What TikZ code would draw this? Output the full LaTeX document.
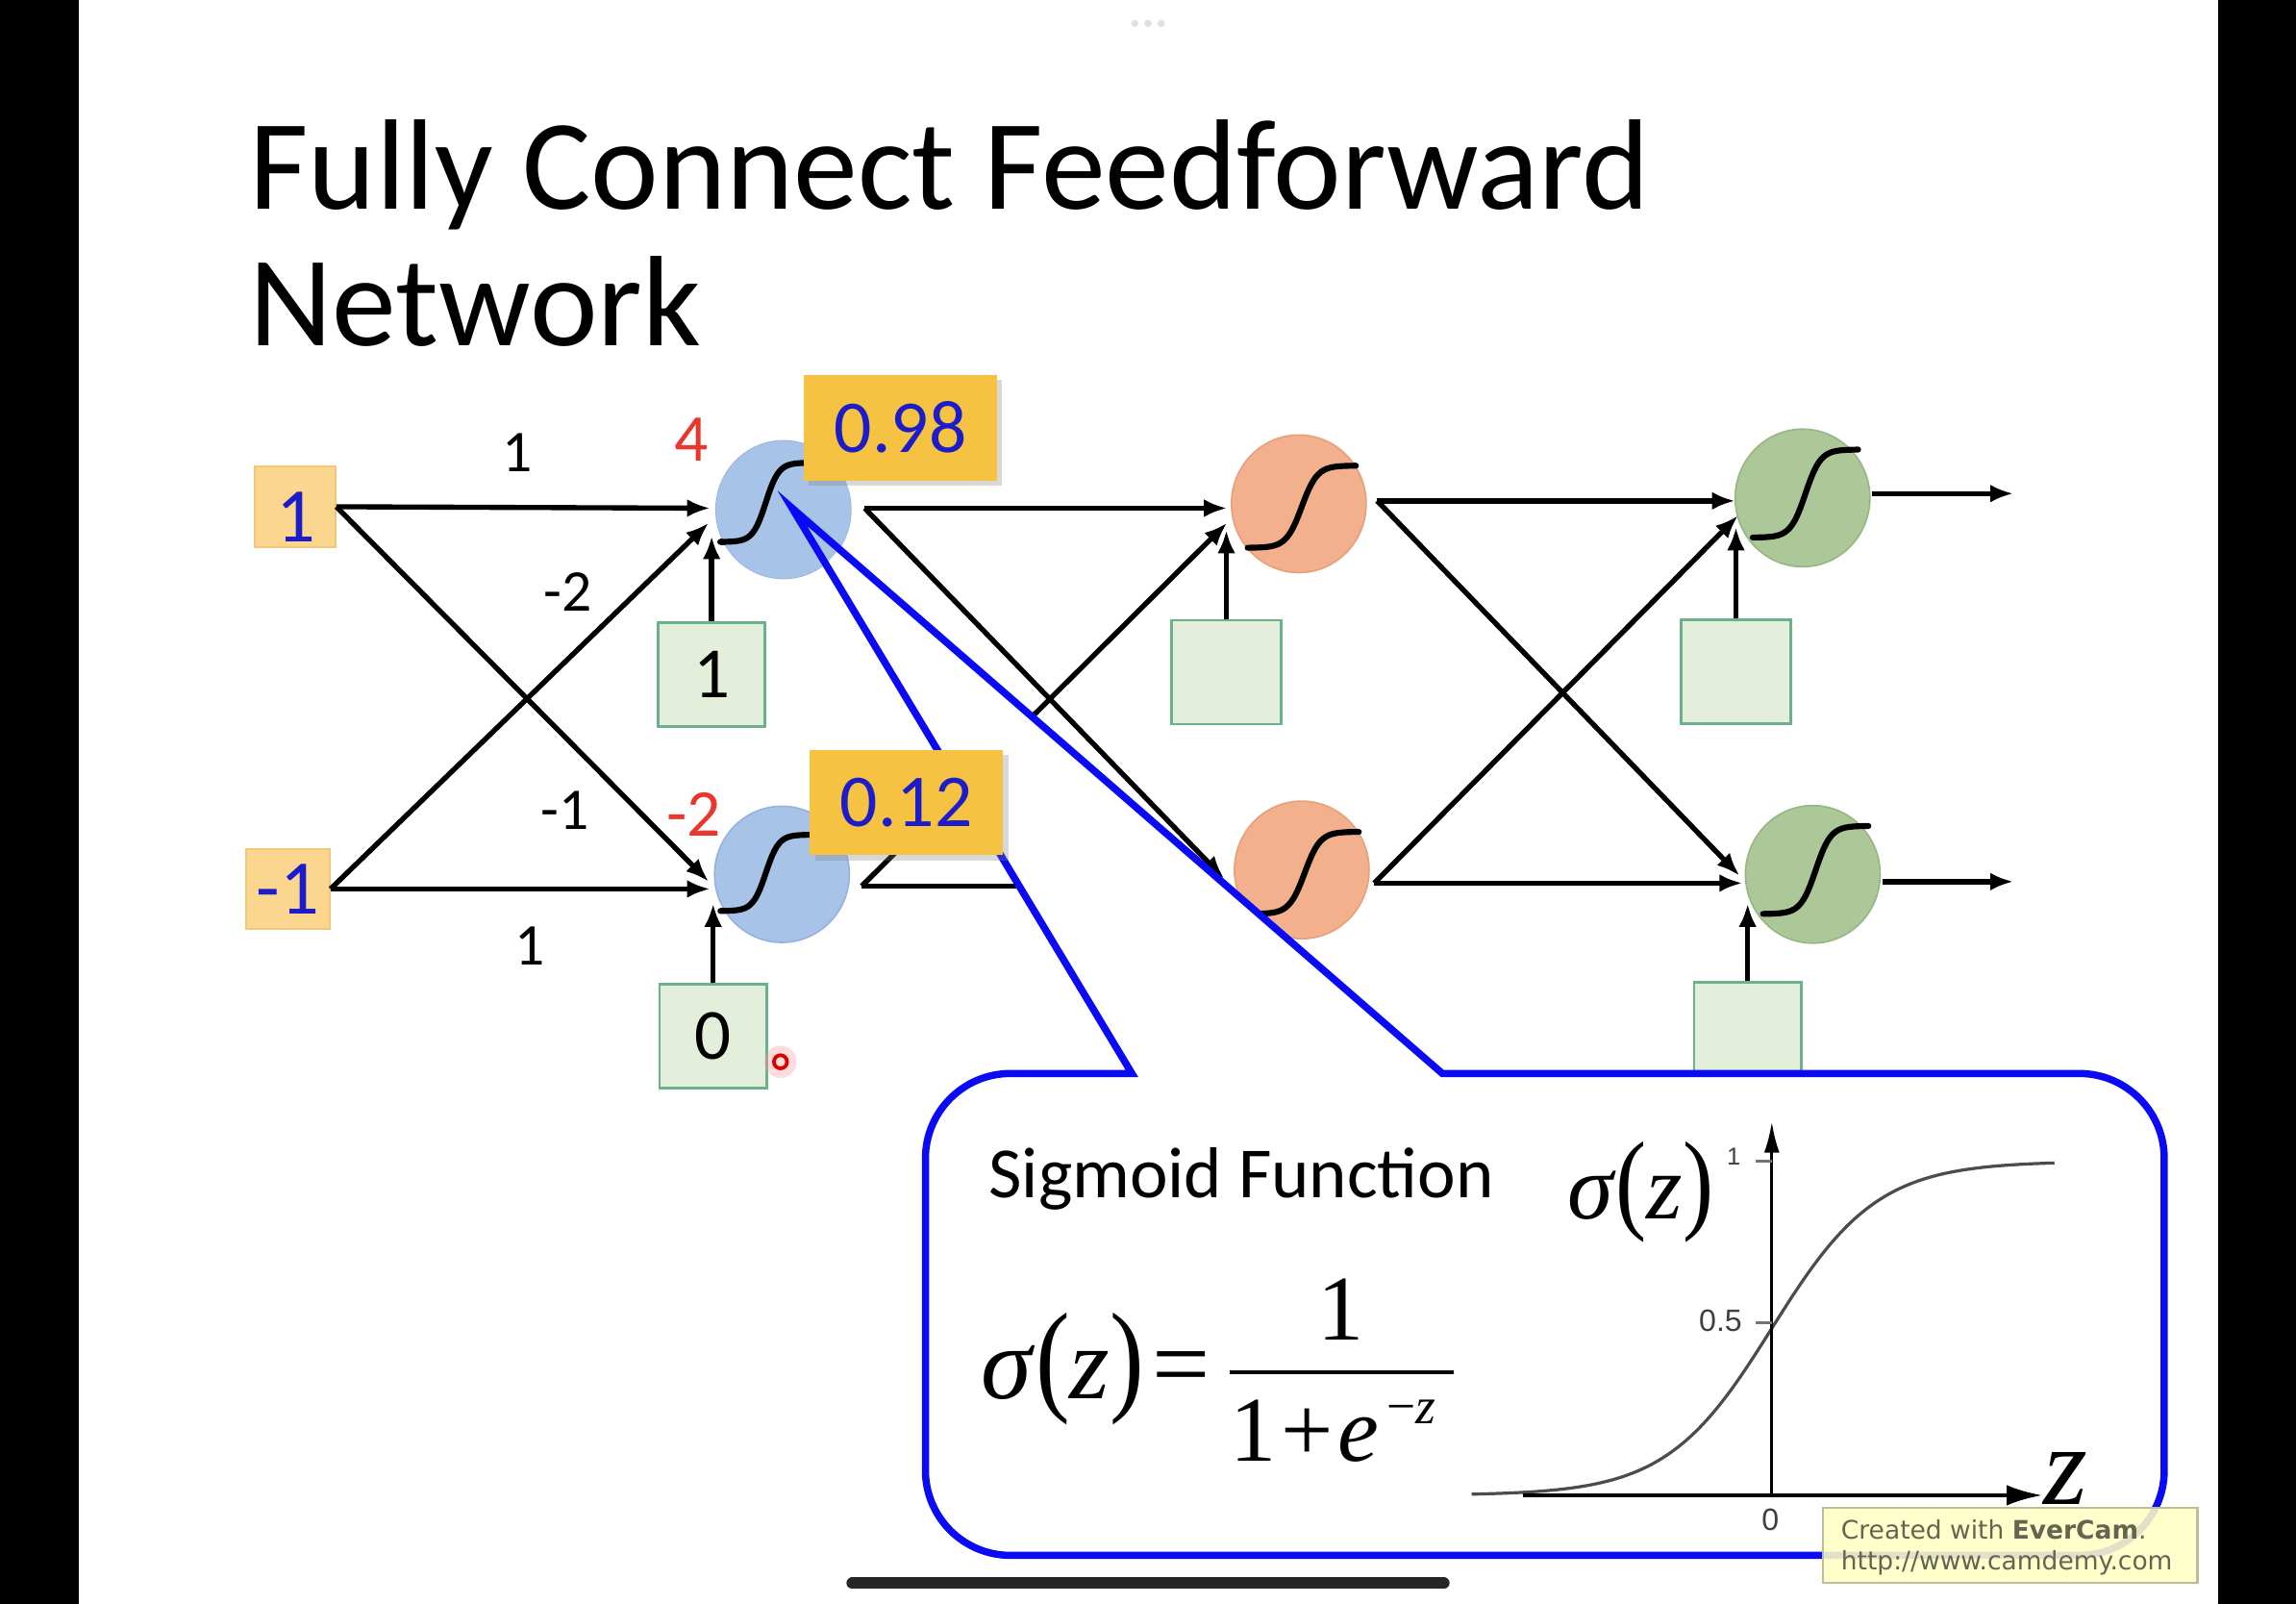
\documentclass[tikz,border=0pt]{standalone}
\usepackage{fontspec}
\usepackage{graphicx}
\setmainfont{Carlito}
\newfontfamily\timesf{Liberation Serif}
\newfontfamily\arialf{Liberation Sans}
\newfontfamily\wmfont{DejaVu Sans}
\usetikzlibrary{arrows.meta,shadows,calc,shapes.geometric}

\definecolor{nblue}{RGB}{168,195,232}
\definecolor{nblueb}{RGB}{150,178,220}
\definecolor{norange}{RGB}{243,176,140}
\definecolor{norangeb}{RGB}{232,160,124}
\definecolor{ngreen}{RGB}{172,200,152}
\definecolor{ngreenb}{RGB}{150,182,132}
\definecolor{inyel}{RGB}{250,214,143}
\definecolor{inyelb}{RGB}{243,199,119}
\definecolor{vgold}{RGB}{245,194,66}
\definecolor{bgreen}{RGB}{227,238,219}
\definecolor{bgreenb}{RGB}{107,178,140}
\definecolor{numblue}{RGB}{28,28,200}
\definecolor{rlab}{RGB}{232,55,44}
\definecolor{calloutblue}{RGB}{10,10,245}
\definecolor{wmyel}{RGB}{255,255,196}
\definecolor{wmbord}{RGB}{190,190,150}
\definecolor{wmtext}{RGB}{100,100,80}

\newcommand\sparen[1]{\scalebox{1}[1.2]{#1}}
\newcommand\sigin[4]{\draw[sigline] plot[domain=-1:1,samples=41,smooth] ({#1+#3*\x},{#2-#4*tanh(3.5*\x)/0.998});}

\begin{document}
\begin{tikzpicture}[x=0.02cm,y=-0.02cm,
  arr/.style={line width=2pt,-{Latex[length=9pt,width=7pt]}},
  neuron/.style={ellipse, inner sep=0pt, minimum width=1.84cm, minimum height=1.88cm, line width=0.6pt},
  inbox/.style={rectangle, inner sep=0pt, fill=inyel, draw=inyelb, line width=0.8pt, text=numblue, font=\fontsize{30}{30}\selectfont},
  biasbox/.style={rectangle, inner sep=0pt, fill=bgreen, draw=bgreenb, line width=1pt, minimum width=1.46cm, minimum height=1.42cm, font=\fontsize{28}{28}\selectfont},
  valbox/.style={rectangle, inner sep=0pt, fill=vgold, minimum width=2.64cm, minimum height=1.44cm, text=numblue, font=\fontsize{29}{29}\selectfont, drop shadow={shadow xshift=2pt,shadow yshift=-2pt,opacity=0.3}},
  wlabel/.style={font=\fontsize{23}{23}\selectfont},
  rlabel/.style={text=rlab, font=\fontsize{26}{26}\selectfont},
  sigline/.style={line width=2.3pt, line cap=round},
  callout/.style={line width=2.8pt, draw=calloutblue, line join=miter},
]
\useasboundingbox (0,0) rectangle (1568,1095);
\fill[white] (0,0) rectangle (1568,1095);
\fill[black] (0,0) rectangle (54,1095);
\fill[black] (1515,0) rectangle (1568,1095);
\fill[black!12] (775,16) circle (0.05cm) (784,16) circle (0.05cm) (793,16) circle (0.05cm);

% title
\node[anchor=base west, inner sep=0, font=\fontsize{50}{50}\selectfont] (title1) at (170,143) {Fully Connect Feedforward};
\node[anchor=base west, inner sep=0, font=\fontsize{50}{50}\selectfont] (title2) at (170,236) {Network};

% inputs
\node[inbox, minimum width=1.1cm, minimum height=1.1cm] (in1) at (201.5,346) {};
\node[text=numblue, font=\fontsize{30}{30}\selectfont, inner sep=0] (in1t) at (202,353) {1};
\node[inbox, minimum width=1.14cm, minimum height=1.1cm] (in2) at (196.5,607) {-1};

% neurons
\node[neuron, fill=nblue, draw=nblueb] (n11) at (535,348) {};
\node[neuron, fill=nblue, draw=nblueb, minimum height=1.86cm] (n12) at (534,597) {};
\node[neuron, fill=norange, draw=norangeb] (n21) at (887,344) {};
\node[neuron, fill=norange, draw=norangeb] (n22) at (889,594) {};
\node[neuron, fill=ngreen, draw=ngreenb] (n31) at (1231,340) {};
\node[neuron, fill=ngreen, draw=ngreenb] (n32) at (1238,597) {};
\sigin{523}{343}{31}{27}
\sigin{523}{596}{31}{26}
\sigin{889}{346}{37}{28}
\sigin{891}{596}{37}{28}
\sigin{1233}{337}{36}{30}
\sigin{1240}{594}{36}{30}

% bias boxes
\node[biasbox] (b11) at (486,460.5) {1};
\node[biasbox] (b12) at (487,707.5) {0};
\node[biasbox, minimum width=1.5cm] (b21) at (837.5,459) {};
\node[biasbox, minimum width=1.5cm] (b31) at (1185.5,458.5) {};
\node[biasbox] (b32) at (1193.5,706) {};

% tip / start coordinates
\coordinate (t11h) at (485,347);
\coordinate (t11d) at (484,357);
\coordinate (t11b) at (486,366);
\coordinate (t12h) at (485,607);
\coordinate (t12d) at (484,602);
\coordinate (t12b) at (487,617);
\coordinate (o11) at ($(n11.east)+(9,-1)$);
\coordinate (o12) at ($(n12.east)+(8,8)$);
\coordinate (t21h) at (838,347);
\coordinate (t21d) at (838,357);
\coordinate (t21b) at (837.5,362);
\coordinate (t22h) at (836,605);
\coordinate (t22d) at (836,600);
\coordinate (o21) at ($(n21.east)+(7,-2)$);
\coordinate (o22) at ($(n22.east)+(3,9)$);
\coordinate (t31h) at (1185,342);
\coordinate (t31d) at (1187,352);
\coordinate (t31b) at (1185.5,360);
\coordinate (t32h) at (1190,603);
\coordinate (t32d) at (1188,598);
\coordinate (t32b) at (1193.5,617);
\coordinate (o31) at ($(n31.east)+(1,-3)$);
\coordinate (o32) at ($(n32.east)+(1,5)$);
\coordinate (e31) at (1375,337);
\coordinate (e32) at (1375,602);

% edges layer 1
\draw[arr] (in1.east) -- (t11h);
\draw[arr] (in1.east) -- (t12d);
\draw[arr] (in2.east) -- (t12h);
\draw[arr] (in2.east) -- (t11d);
\draw[arr] (b11.north) -- (t11b);
\draw[arr] (b12.north) -- (t12b);
% layer 2
\draw[arr] (o11) -- (t21h);
\draw[arr] (o11) -- (t22d);
\draw[arr] (o12) -- (t21d);
\draw[arr] (o12) -- (t22h);
\draw[arr] (b21.north) -- (t21b);
% layer 3
\draw[arr] (o21) -- (t31h);
\draw[arr] (o21) -- (t32d);
\draw[arr] (o22) -- (t31d);
\draw[arr] (o22) -- (t32h);
\draw[arr] (b31.north) -- (t31b);
\draw[arr] (b32.north) -- (t32b);
% outputs
\draw[arr] (o31) -- (e31);
\draw[arr] (o32) -- (e32);

% weight labels
\node[wlabel] (w1) at (353,309) {1};
\node[wlabel] (w2) at (388,404) {-2};
\node[wlabel] (w3) at (386,553) {-1};
\node[wlabel] (w4) at (362,646) {1};
\node[rlabel] (z1) at (472,300) {4};
\node[rlabel] (z2) at (474,556) {-2};

% callout: white fill
\fill[white] (773,733) -- (541,347) -- (985,733) -- (1420,733) .. controls (1452,733) and (1478,759) .. (1478,791) -- (1478,1004) .. controls (1478,1036) and (1452,1062) .. (1420,1062) -- (690,1062) .. controls (658,1062) and (632,1036) .. (632,1004) -- (632,791) .. controls (632,759) and (658,733) .. (690,733) -- cycle;
% neuron n11 again on top of the callout fill
\fill[nblue] (n11.center) ellipse [x radius=0.92cm, y radius=0.94cm];
\sigin{523}{343}{31}{27}
% callout outline
\draw[callout] (773,733) -- (541,347) -- (985,733) -- (1420,733) .. controls (1452,733) and (1478,759) .. (1478,791) -- (1478,1004) .. controls (1478,1036) and (1452,1062) .. (1420,1062) -- (690,1062) .. controls (658,1062) and (632,1036) .. (632,1004) -- (632,791) .. controls (632,759) and (658,733) .. (690,733) -- cycle;

% value boxes
\node[valbox] (v11) at (615,292) {0.98};
\node[valbox] (v12) at (619,548) {0.12};

% sigmoid panel
\node[anchor=base west, inner sep=0, font=\fontsize{28}{28}\selectfont] (sigt) at (675,818) {Sigmoid Function};
\node[anchor=base west, inner sep=0, font=\timesf\fontsize{40}{40}\selectfont] (fl) at (670,955) {\textit{σ}\sparen{(}\textit{z}\sparen{)}\kern0.08em=};
\draw[line width=1.3pt] (840,937) -- (993,937);
\node[anchor=base, inner sep=0, font=\timesf\fontsize{36}{36}\selectfont] (num) at (916,915) {1};
\node[anchor=base west, inner sep=0, font=\timesf\fontsize{36}{36}\selectfont] (den) at (840,998) {1\kern0.05em+\kern0.05em\textit{e}};
\node[anchor=base west, inner sep=0, font=\timesf\fontsize{20}{20}\selectfont] (sup) at (947,972) {−\textit{z}};

% graph
\draw[line width=1.2pt, black!70] plot[domain=1005:1403, samples=150, smooth] ({\x},{1021-228/(1+exp(-(\x-1210)/36))});
\draw[line width=1.7pt, -{Latex[length=14pt,width=8pt]}] (1040,1021) -- (1395,1021);
\draw[line width=1.1pt, -{Latex[length=12pt,width=6pt]}] (1210,1021) -- (1210,766);
\draw[line width=1pt, black!55] (1199,793) -- (1210,793);
\draw[line width=1pt, black!55] (1199,903) -- (1210,903);
\node[inner sep=0, font=\arialf\fontsize{9.5}{9.5}\selectfont, text=black!75] (g1) at (1184,790) {1};
\node[inner sep=0, font=\arialf\fontsize{12}{12}\selectfont, text=black!75] (g05) at (1175,902) {0.5};
\node[inner sep=0, font=\arialf\fontsize{12}{12}\selectfont, text=black!75] (g0) at (1209,1038) {0};
\node[anchor=base west, inner sep=0, font=\timesf\fontsize{36}{36}\selectfont] (gs) at (1070,832) {\textit{σ}\sparen{(}\textit{z}\sparen{)}};
\node[anchor=base west, inner sep=0, font=\timesf\fontsize{44}{44}\selectfont] (gz) at (1395,1027) {\textit{z}};

% watermark
\node[anchor=north west, inner sep=0, minimum width=5.12cm, minimum height=1.02cm, fill=wmyel, fill opacity=0.88, draw=wmbord, line width=0.8pt] (wm) at (1244,1029) {};
\node[anchor=base west, inner sep=0, text=wmtext, font=\wmfont\fontsize{9.9}{9.9}\selectfont] (wm1) at (1257,1051) {Created with \textbf{EverCam}.};
\node[anchor=base west, inner sep=0, text=wmtext, font=\wmfont\fontsize{9.9}{9.9}\selectfont] (wm2) at (1257,1072) {http://www.camdemy.com};

% cursor and home bar
\fill[red!40, opacity=0.35] (533,725) circle (0.22cm);
\draw[red!85!black, line width=1.4pt] (533,725) circle (0.09cm);
\draw[line width=4.5pt, line cap=round, black!85] (582,1081) -- (986,1081);
\end{tikzpicture}
\end{document}
